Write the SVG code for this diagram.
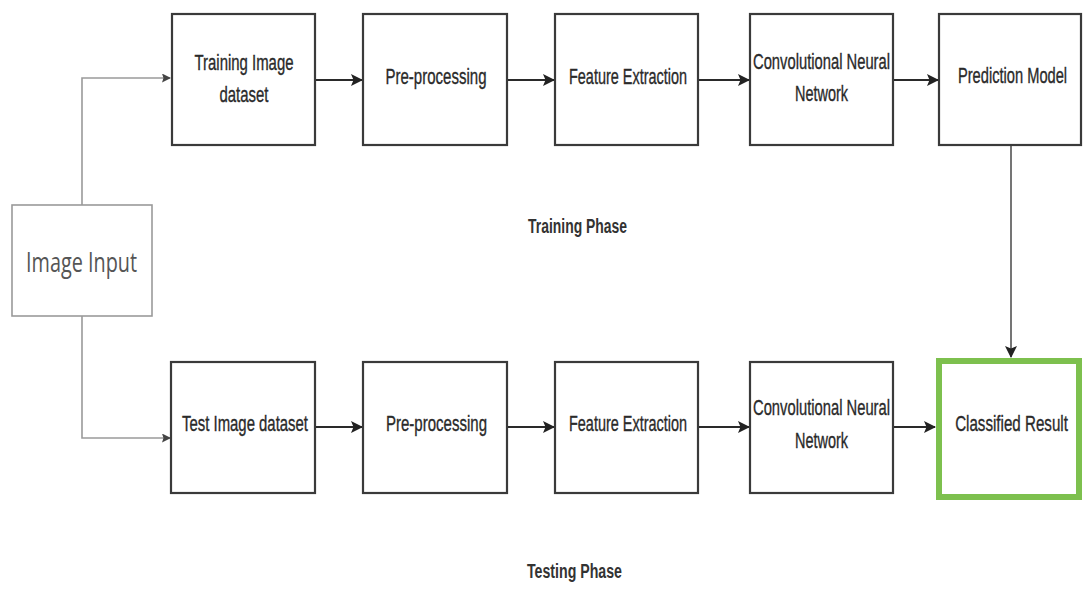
<svg xmlns="http://www.w3.org/2000/svg" width="1083" height="597" viewBox="0 0 1083 597">
<defs>
<marker id="ah" markerWidth="12" markerHeight="12" refX="11" refY="6" orient="auto" markerUnits="userSpaceOnUse">
<path d="M0,0 L12,6 L0,12 L2.5,6 Z" fill="#222"/>
</marker>
<marker id="ahs" markerWidth="9" markerHeight="9" refX="8" refY="4.5" orient="auto" markerUnits="userSpaceOnUse">
<path d="M0,0 L9,4.5 L0,9 L1.5,4.5 Z" fill="#444"/>
</marker>
</defs>
<style>
.box{fill:#fff;stroke:#3a3a3a;stroke-width:2.2}
.lbl{font-family:"Liberation Sans",Arial,sans-serif;font-size:22px;fill:#2a2a2a;stroke:#2a2a2a;stroke-width:0.35;text-anchor:middle}
.ph{font-family:"Liberation Sans",Arial,sans-serif;font-size:20px;font-weight:bold;fill:#333;text-anchor:middle}
.c{fill:none;stroke:#2a2a2a;stroke-width:2.2}
.g{fill:none;stroke:#9a9a9a;stroke-width:1.6}
</style>
<rect width="1083" height="597" fill="#fff"/>
<g id="connectors">
<path class="g" d="M82,205 V78 H170" marker-end="url(#ahs)"/>
<path class="g" d="M82,316 V438 H170" marker-end="url(#ahs)"/>
<path class="c" d="M315,80 H362" marker-end="url(#ah)"/>
<path class="c" d="M507,80 H554" marker-end="url(#ah)"/>
<path class="c" d="M698,80 H749" marker-end="url(#ah)"/>
<path class="c" d="M893,80 H938" marker-end="url(#ah)"/>
<path class="c" d="M315,427 H362" marker-end="url(#ah)"/>
<path class="c" d="M507,427 H554" marker-end="url(#ah)"/>
<path class="c" d="M698,427 H749" marker-end="url(#ah)"/>
<path class="c" d="M893,427 H935" marker-end="url(#ah)"/>
<path d="M1011,145 V357" fill="none" stroke="#666" stroke-width="1.8" marker-end="url(#ah)"/>
</g>
<g id="image-input">
<rect x="12" y="205" width="140" height="111" fill="#fff" stroke="#9a9a9a" stroke-width="1.6"/>
<text x="81.5" y="272" font-family="'Open Sans','Liberation Sans',sans-serif" font-size="28" fill="#555" text-anchor="middle" textLength="111" lengthAdjust="spacingAndGlyphs">Image Input</text>
</g>
<g id="train-dataset">
<rect class="box" x="172" y="14" width="143" height="131"/>
<text class="lbl" x="244" y="70" textLength="99" lengthAdjust="spacingAndGlyphs">Training Image</text>
<text class="lbl" x="244" y="102" textLength="49" lengthAdjust="spacingAndGlyphs">dataset</text>
</g>
<g id="train-preproc">
<rect class="box" x="363" y="14" width="144" height="131"/>
<text class="lbl" x="436" y="84" textLength="101" lengthAdjust="spacingAndGlyphs">Pre-processing</text>
</g>
<g id="train-feature">
<rect class="box" x="555" y="14" width="143" height="131"/>
<text class="lbl" x="628" y="84" textLength="118" lengthAdjust="spacingAndGlyphs">Feature Extraction</text>
</g>
<g id="train-cnn">
<rect class="box" x="750" y="14" width="143" height="131"/>
<text class="lbl" x="821.5" y="69" textLength="137" lengthAdjust="spacingAndGlyphs">Convolutional Neural</text>
<text class="lbl" x="821.5" y="101" textLength="53" lengthAdjust="spacingAndGlyphs">Network</text>
</g>
<g id="prediction-model">
<rect class="box" x="939" y="14" width="142" height="131"/>
<text class="lbl" transform="translate(1012.5,83) scale(0.7,1)" x="0" y="0" textLength="156" lengthAdjust="spacingAndGlyphs">Prediction Model</text>
</g>
<g id="training-phase">
<text class="ph" x="577.5" y="233" textLength="99" lengthAdjust="spacingAndGlyphs">Training Phase</text>
</g>
<g id="test-dataset">
<rect class="box" x="171" y="362" width="144" height="131"/>
<text class="lbl" x="245" y="431" textLength="126" lengthAdjust="spacingAndGlyphs">Test Image dataset</text>
</g>
<g id="test-preproc">
<rect class="box" x="363" y="362" width="144" height="131"/>
<text class="lbl" x="436.5" y="431" textLength="101" lengthAdjust="spacingAndGlyphs">Pre-processing</text>
</g>
<g id="test-feature">
<rect class="box" x="555" y="362" width="143" height="131"/>
<text class="lbl" x="628" y="431" textLength="118" lengthAdjust="spacingAndGlyphs">Feature Extraction</text>
</g>
<g id="test-cnn">
<rect class="box" x="750" y="362" width="143" height="131"/>
<text class="lbl" x="821.5" y="415" textLength="137" lengthAdjust="spacingAndGlyphs">Convolutional Neural</text>
<text class="lbl" x="821.5" y="448" textLength="53" lengthAdjust="spacingAndGlyphs">Network</text>
</g>
<g id="classified-result">
<rect x="939" y="361" width="140" height="136" fill="#fff" stroke="#7dc04e" stroke-width="6"/>
<text class="lbl" transform="translate(1011.5,431) scale(0.7,1)" x="0" y="0" textLength="161" lengthAdjust="spacingAndGlyphs">Classified Result</text>
</g>
<g id="testing-phase">
<text class="ph" x="574.5" y="578" textLength="95" lengthAdjust="spacingAndGlyphs">Testing Phase</text>
</g>
</svg>
